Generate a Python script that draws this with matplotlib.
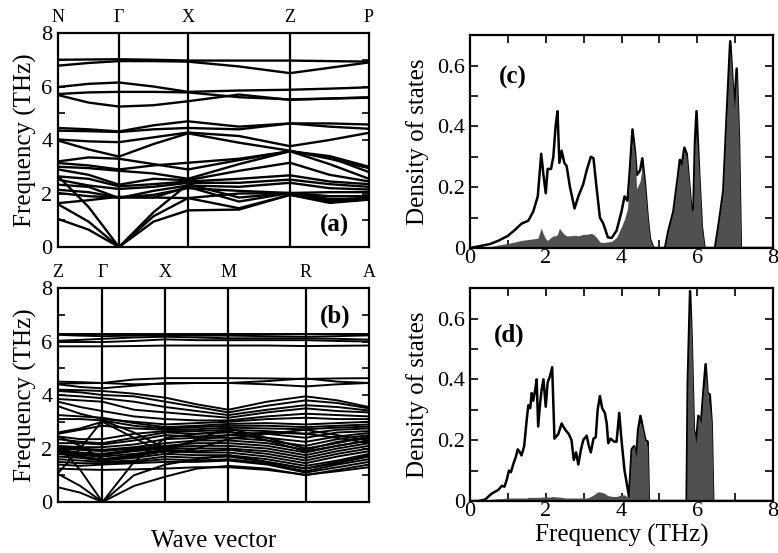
import matplotlib
matplotlib.use('Agg')
import matplotlib.pyplot as plt
from matplotlib.ticker import MultipleLocator

plt.rcParams['font.family'] = ['Liberation Serif', 'DejaVu Serif']

# ---- panel (a): dispersion along N-G-X-Z-P ----
labels_a = ['N', 'Γ', 'X', 'Z', 'P']
hs_a = [0.0, 0.196, 0.418, 0.746, 1.0]
k_a = [0.0, 0.098, 0.196, 0.307, 0.418, 0.582, 0.746, 0.873, 1.0]
bands_a = [
    [7.00, 7.01, 7.02, 7.00, 6.97, 6.97, 6.97, 6.95, 6.93],
    [6.78, 6.88, 6.95, 6.95, 6.93, 6.75, 6.50, 6.70, 6.90],
    [5.98, 6.10, 6.15, 6.00, 5.80, 5.85, 5.88, 5.92, 5.97],
    [5.72, 5.78, 5.80, 5.80, 5.78, 5.60, 5.52, 5.55, 5.60],
    [5.68, 5.40, 5.25, 5.30, 5.45, 5.70, 5.50, 5.55, 5.58],
    [4.45, 4.40, 4.32, 4.55, 4.70, 4.50, 4.62, 4.62, 4.58],
    [4.35, 4.33, 4.30, 4.40, 4.45, 4.40, 4.62, 4.50, 4.42],
    [4.02, 3.95, 3.92, 4.10, 4.28, 4.15, 3.77, 4.00, 4.27],
    [3.98, 3.65, 3.38, 3.85, 4.25, 3.90, 3.60, 3.30, 2.95],
    [3.20, 3.35, 3.30, 3.10, 2.90, 3.25, 3.58, 3.40, 3.00],
    [3.14, 3.05, 2.90, 3.05, 3.15, 3.30, 3.58, 3.35, 2.80],
    [3.00, 2.95, 2.85, 2.75, 2.55, 3.10, 3.58, 3.10, 2.55],
    [2.90, 2.70, 2.33, 2.55, 2.50, 2.85, 3.15, 2.70, 2.45],
    [2.64, 2.55, 2.27, 2.35, 2.45, 2.55, 2.68, 2.45, 2.35],
    [2.52, 2.30, 2.17, 2.25, 2.40, 2.40, 2.52, 2.35, 2.25],
    [2.33, 2.25, 1.83, 2.10, 2.30, 2.25, 2.40, 2.20, 2.15],
    [2.14, 2.05, 1.85, 1.95, 2.20, 2.10, 2.02, 2.05, 2.05],
    [2.02, 1.90, 1.85, 1.85, 1.83, 2.00, 2.02, 1.90, 1.90],
    [1.64, 1.75, 1.88, 1.85, 2.25, 1.70, 2.02, 1.75, 1.85],
    [2.65, 1.50, 0.00, 1.30, 2.35, 1.85, 2.02, 1.80, 1.80],
    [1.60, 0.95, 0.00, 1.15, 1.83, 1.45, 1.95, 1.70, 1.78],
    [1.05, 0.65, 0.00, 0.95, 1.37, 1.40, 1.95, 1.65, 1.77],
]

# ---- panel (b): dispersion along Z-G-X-M-R-A ----
labels_b = ['Z', 'Γ', 'X', 'M', 'R', 'A']
hs_b = [0.0, 0.1427, 0.3455, 0.548, 0.796, 1.0]
k_b = [0.0, 0.0714, 0.1427, 0.2441, 0.3455, 0.4468, 0.548, 0.672, 0.796, 0.898, 1.0]
bands_b = [
    [6.28, 6.28, 6.28, 6.28, 6.28, 6.28, 6.28, 6.28, 6.28, 6.28, 6.28],
    [6.25, 6.22, 6.20, 6.22, 6.24, 6.22, 6.22, 6.20, 6.18, 6.20, 6.23],
    [6.03, 6.06, 6.10, 6.15, 6.18, 6.15, 6.12, 6.12, 6.12, 6.10, 6.07],
    [5.98, 5.98, 5.98, 6.02, 6.08, 6.05, 6.05, 6.05, 6.05, 6.02, 6.00],
    [5.82, 5.82, 5.82, 5.83, 5.85, 5.85, 5.85, 5.85, 5.83, 5.84, 5.85],
    [4.50, 4.48, 4.45, 4.58, 4.63, 4.63, 4.63, 4.62, 4.60, 4.62, 4.63],
    [4.42, 4.44, 4.45, 4.40, 4.42, 4.45, 4.45, 4.52, 4.62, 4.50, 4.45],
    [4.40, 4.30, 4.25, 4.35, 4.45, 4.45, 4.45, 4.40, 4.32, 4.40, 4.45],
    [4.20, 4.18, 4.15, 4.05, 3.90, 3.65, 3.45, 3.75, 3.95, 3.80, 3.55],
    [4.15, 4.10, 4.00, 3.95, 3.75, 3.55, 3.35, 3.60, 3.80, 3.70, 3.50],
    [4.00, 3.95, 3.88, 3.75, 3.55, 3.40, 3.25, 3.45, 3.62, 3.55, 3.42],
    [3.85, 3.80, 3.75, 3.45, 3.35, 3.25, 3.15, 3.35, 3.50, 3.40, 3.35],
    [3.75, 3.55, 3.40, 3.20, 3.10, 3.05, 3.05, 3.20, 3.30, 3.25, 3.20],
    [3.58, 3.30, 3.10, 3.00, 2.90, 2.95, 3.00, 3.10, 3.15, 3.10, 3.10],
    [3.25, 3.20, 3.15, 2.95, 2.80, 2.85, 2.92, 2.95, 2.90, 2.95, 3.00],
    [3.10, 3.10, 3.05, 2.85, 2.75, 2.80, 2.85, 2.85, 2.80, 2.85, 2.90],
    [2.55, 2.70, 2.85, 2.75, 2.70, 2.72, 2.78, 2.75, 2.72, 2.78, 2.82],
    [2.45, 2.35, 2.35, 2.55, 2.65, 2.65, 2.70, 2.65, 2.55, 2.70, 2.75],
    [2.35, 2.25, 2.20, 2.40, 2.60, 2.55, 2.60, 2.55, 2.40, 2.60, 2.65],
    [2.20, 2.20, 2.15, 2.30, 2.50, 2.45, 2.50, 2.40, 2.25, 2.45, 2.58],
    [2.10, 2.05, 2.05, 2.15, 2.35, 2.40, 2.40, 2.30, 2.10, 2.35, 2.50],
    [2.05, 2.00, 1.95, 2.05, 2.20, 2.30, 2.30, 2.20, 1.95, 2.25, 2.40],
    [2.00, 1.95, 1.90, 2.00, 2.10, 2.20, 2.20, 2.10, 1.85, 2.10, 2.30],
    [1.95, 1.85, 1.80, 1.95, 2.05, 2.10, 2.10, 2.00, 1.75, 2.00, 2.20],
    [1.90, 1.80, 1.75, 1.90, 2.00, 2.00, 2.00, 1.90, 1.65, 1.90, 2.10],
    [1.85, 1.75, 1.70, 1.80, 1.95, 1.90, 1.95, 1.80, 1.55, 1.80, 2.00],
    [1.80, 1.70, 1.60, 1.75, 1.90, 1.85, 1.85, 1.70, 1.45, 1.70, 1.90],
    [1.70, 1.65, 1.55, 1.65, 1.80, 1.75, 1.75, 1.60, 1.35, 1.55, 1.80],
    [1.60, 1.55, 1.50, 1.55, 1.70, 1.65, 1.70, 1.50, 1.25, 1.45, 1.70],
    [1.50, 1.45, 1.45, 1.50, 1.60, 1.55, 1.60, 1.45, 1.15, 1.40, 1.60],
    [1.40, 1.35, 1.40, 1.45, 1.50, 1.50, 1.55, 1.40, 1.10, 1.30, 1.50],
    [1.25, 1.22, 1.20, 1.22, 1.25, 1.30, 1.30, 1.20, 1.02, 1.15, 1.30],
    [1.08, 2.00, 3.05, 2.60, 2.00, 2.30, 2.50, 2.60, 2.55, 2.40, 2.20],
    [2.60, 2.75, 3.00, 2.40, 1.80, 2.00, 2.35, 2.55, 2.70, 2.50, 2.30],
    [2.45, 2.10, 1.60, 1.70, 1.90, 2.35, 2.75, 2.40, 2.00, 2.20, 2.45],
    [2.10, 1.20, 0.00, 1.50, 2.40, 2.55, 2.65, 2.30, 1.90, 2.10, 2.30],
    [1.05, 0.60, 0.00, 1.00, 1.40, 1.60, 1.75, 1.50, 1.25, 1.50, 1.75],
    [0.55, 0.35, 0.00, 0.60, 0.95, 1.25, 1.35, 1.25, 1.00, 1.20, 1.40],
]

# ---- panel (c): density of states ----
freq_c = [0.0, 0.53, 0.75, 1.0, 1.19, 1.36, 1.54, 1.67, 1.79, 1.88,
          1.94, 2.0, 2.05, 2.14, 2.2, 2.26, 2.31, 2.36, 2.42, 2.49,
          2.55, 2.64, 2.76, 2.86, 2.99, 3.08, 3.19, 3.26, 3.34, 3.43,
          3.52, 3.64, 3.74, 3.87, 4.0, 4.08, 4.16, 4.22, 4.29, 4.36,
          4.4, 4.49, 4.55, 4.62, 4.69, 4.75, 4.84, 5.15, 5.24, 5.37,
          5.5, 5.54, 5.59, 5.66, 5.72, 5.78, 5.85, 5.9, 5.94, 5.98,
          6.05, 6.12, 6.19, 6.47, 6.58, 6.69, 6.78, 6.87, 6.94, 6.98,
          7.04, 7.1, 7.15, 8.0]
total_c = [0.0, 0.013, 0.024, 0.04, 0.06, 0.08, 0.09, 0.12, 0.17, 0.31,
           0.24, 0.18, 0.26, 0.26, 0.30, 0.40, 0.45, 0.28, 0.32, 0.28,
           0.27, 0.20, 0.13, 0.17, 0.21, 0.255, 0.30, 0.295, 0.20, 0.10,
           0.08, 0.035, 0.033, 0.057, 0.12, 0.17, 0.155, 0.255, 0.39, 0.31,
           0.24, 0.255, 0.295, 0.21, 0.10, 0.03, 0.0, 0.0, 0.057, 0.12,
           0.245, 0.29, 0.27, 0.33, 0.31, 0.22, 0.12, 0.13, 0.35, 0.45,
           0.245, 0.07, 0.0, 0.0, 0.09, 0.19, 0.44, 0.68, 0.53, 0.46,
           0.59, 0.365, 0.0, 0.0]
partial_c = [0.0, 0.005, 0.01, 0.015, 0.02, 0.025, 0.028, 0.03, 0.032, 0.065,
             0.045, 0.03, 0.025, 0.035, 0.04, 0.04, 0.045, 0.065, 0.055, 0.045,
             0.04, 0.04, 0.042, 0.04, 0.045, 0.045, 0.048, 0.045, 0.035, 0.02,
             0.018, 0.02, 0.022, 0.035, 0.07, 0.095, 0.13, 0.25, 0.36, 0.30,
             0.195, 0.22, 0.27, 0.20, 0.10, 0.03, 0.0, 0.0, 0.057, 0.12,
             0.245, 0.28, 0.27, 0.32, 0.30, 0.22, 0.12, 0.13, 0.34, 0.38,
             0.245, 0.07, 0.0, 0.0, 0.09, 0.19, 0.44, 0.65, 0.53, 0.46,
             0.57, 0.365, 0.0, 0.0]

# ---- panel (d): density of states ----
freq_d = [0.0, 0.22, 0.4, 0.57, 0.75, 0.84, 0.91, 0.97, 1.03, 1.08,
          1.14, 1.21, 1.26, 1.32, 1.36, 1.43, 1.5, 1.54, 1.59, 1.63,
          1.67, 1.72, 1.76, 1.8, 1.85, 1.89, 1.94, 2.0, 2.05, 2.11,
          2.17, 2.23, 2.33, 2.42, 2.51, 2.61, 2.68, 2.74, 2.8, 2.86,
          2.93, 2.99, 3.08, 3.14, 3.19, 3.26, 3.32, 3.37, 3.43, 3.49,
          3.56, 3.61, 3.65, 3.71, 3.81, 3.87, 3.94, 4.0, 4.08, 4.14,
          4.2, 4.27, 4.33, 4.39, 4.44, 4.5, 4.57, 4.63, 4.69, 4.72,
          5.72, 5.75, 5.81, 5.85, 5.91, 5.97, 6.03, 6.1, 6.16, 6.22,
          6.27, 6.33, 6.38, 6.42, 8.0]
total_d = [0.0, 0.0, 0.005, 0.024, 0.037, 0.05, 0.047, 0.07, 0.10, 0.095,
           0.12, 0.145, 0.17, 0.16, 0.15, 0.18, 0.27, 0.315, 0.305, 0.355,
           0.33, 0.365, 0.40, 0.245, 0.32, 0.365, 0.40, 0.31, 0.39, 0.41,
           0.44, 0.205, 0.22, 0.255, 0.235, 0.22, 0.20, 0.135, 0.16, 0.12,
           0.17, 0.20, 0.215, 0.18, 0.16, 0.205, 0.21, 0.30, 0.345, 0.305,
           0.29, 0.255, 0.19, 0.205, 0.195, 0.195, 0.29, 0.20, 0.10, 0.057,
           0.013, 0.17, 0.18, 0.145, 0.235, 0.28, 0.235, 0.20, 0.195, 0.0,
           0.0, 0.39, 0.69, 0.54, 0.235, 0.19, 0.28, 0.255, 0.355, 0.45,
           0.355, 0.35, 0.255, 0.0, 0.0]
partial_d = [0.0, 0.002, 0.004, 0.006, 0.008, 0.008, 0.009, 0.009, 0.01, 0.01,
             0.01, 0.01, 0.01, 0.01, 0.01, 0.01, 0.01, 0.012, 0.012, 0.012,
             0.012, 0.012, 0.012, 0.012, 0.012, 0.013, 0.013, 0.013, 0.013, 0.013,
             0.015, 0.014, 0.013, 0.012, 0.01, 0.01, 0.01, 0.01, 0.01, 0.01,
             0.01, 0.01, 0.01, 0.012, 0.015, 0.02, 0.025, 0.03, 0.03, 0.028,
             0.025, 0.02, 0.018, 0.016, 0.015, 0.015, 0.018, 0.02, 0.02, 0.015,
             0.013, 0.17, 0.18, 0.145, 0.23, 0.26, 0.23, 0.19, 0.18, 0.0,
             0.0, 0.39, 0.64, 0.54, 0.235, 0.19, 0.28, 0.255, 0.355, 0.42,
             0.355, 0.31, 0.255, 0.0, 0.0]

fig = plt.figure(figsize=(7.78, 5.53), dpi=100)
ax_a = fig.add_axes([0.0746, 0.5533, 0.3997, 0.387])
ax_b = fig.add_axes([0.0746, 0.0922, 0.3997, 0.387])
ax_c = fig.add_axes([0.6041, 0.5515, 0.3895, 0.385])
ax_d = fig.add_axes([0.6041, 0.094, 0.3895, 0.385])

LABEL_FS = 18
TICK_FS = 16


def band_panel(ax, k, bands, hs, labels, tag, tag_xy, lw):
    for band in bands:
        ax.plot(k, band, color='black', lw=lw)
    for x in hs[1:-1]:
        ax.axvline(x, color='black', lw=1.6)
    ax.set_xlim(0, 1)
    ax.set_ylim(0, 8)
    ax.xaxis.tick_top()
    ax.set_xticks(hs)
    ax.set_xticklabels(labels, fontsize=13)
    ax.tick_params(axis='x', length=0, pad=5)
    ax.yaxis.set_major_locator(MultipleLocator(2))
    ax.yaxis.set_minor_locator(MultipleLocator(1))
    ax.tick_params(axis='y', which='both', direction='in', left=True, right=True,
                   labelsize=TICK_FS, pad=4)
    ax.tick_params(axis='y', which='major', length=5, width=1.2)
    ax.tick_params(axis='y', which='minor', length=5, width=1.2)
    ax.set_ylabel('Frequency (THz)', fontsize=LABEL_FS, labelpad=3)
    ax.text(tag_xy[0], tag_xy[1], tag, fontsize=18, fontweight='bold',
            ha='center', va='center', transform=ax.transAxes)
    for s in ax.spines.values():
        s.set_linewidth(1.6)


band_panel(ax_a, k_a, bands_a, hs_a, labels_a, '(a)', (0.89, 0.10), 1.7)
band_panel(ax_b, k_b, bands_b, hs_b, labels_b, '(b)', (0.89, 0.87), 1.4)
ax_b.xaxis.set_label_position('bottom')
ax_b.set_xlabel('Wave vector', fontsize=LABEL_FS, labelpad=20)


def dos_panel(ax, freq, total, partial, tag, tag_xy):
    ax.plot(freq, total, color='black', lw=1.8, zorder=2)
    ax.fill_between(freq, partial, color='#505050', lw=0, zorder=3)
    ax.set_xlim(0, 8)
    ax.set_ylim(0, 0.7)
    ax.xaxis.set_major_locator(MultipleLocator(2))
    ax.xaxis.set_minor_locator(MultipleLocator(1))
    ax.yaxis.set_minor_locator(MultipleLocator(0.1))
    ax.set_yticks([0, 0.2, 0.4, 0.6])
    ax.set_yticklabels(['0', '0.2', '0.4', '0.6'])
    ax.tick_params(which='both', direction='in', top=True, right=True,
                   labelsize=TICK_FS, length=6, width=1.2)
    ax.tick_params(axis='x', pad=1)
    ax.set_ylabel('Density of states', fontsize=LABEL_FS, labelpad=6)
    ax.text(tag_xy[0], tag_xy[1], tag, fontsize=18, fontweight='bold',
            ha='center', va='center', transform=ax.transAxes)
    for s in ax.spines.values():
        s.set_linewidth(1.6)
        s.set_zorder(5)


dos_panel(ax_c, freq_c, total_c, partial_c, '(c)', (0.14, 0.80))
dos_panel(ax_d, freq_d, total_d, partial_d, '(d)', (0.13, 0.78))
ax_d.set_xlabel('Frequency (THz)', fontsize=LABEL_FS, labelpad=2)

fig.savefig('out.png', dpi=100)
